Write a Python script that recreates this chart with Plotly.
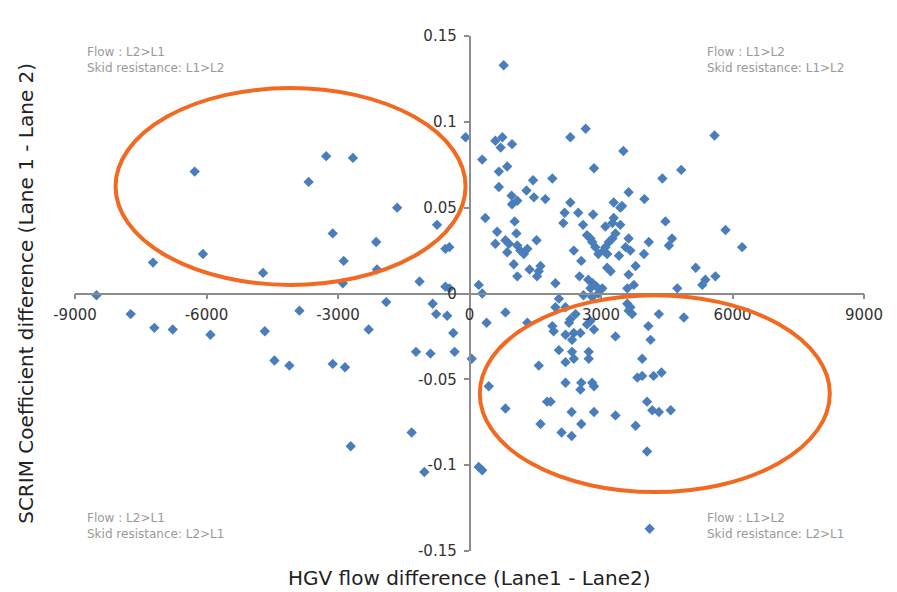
import plotly.graph_objects as go

# HGV flow difference (Lane1 - Lane2)
hgv_diff = [
    -6270, -3270, -2660, -3670, -1650, -740, -3120, -2130, -550, -460,
    -6080, -7220, -2870, -4710, -2110, -1140, -2890, -550, -8510, -90, -460,
    -7730, -7190, -6770, -5910, -4670, -3880, -4450, -4110, -3120, -2840,
    -2300, -1900, -840, -760, -510, -370, -1220, -890, -340, -1320, -2710, -1030,
    780, 590, 750, 710, 970, 290, 860, 670, 670, 2300, 2650, 3510, 2840, 5590,
    4400, 4830, 1450, 1890, 1300, 960, 1090, 1470, 1730, 3630,
    970, 2300, 3990, 3290, 3480, 3440, 360, 1030, 2170, 2480, 2820, 2140, 2590,
    3290, 3260, 3440, 3100, 4470, 5840,
    630, 1070, 590, 820, 900, 860, 1090, 1160, 1240, 1320, 1530, 2380, 2680,
    2760, 2800, 2870, 2940, 3330, 3260, 3180, 3100, 3060, 3140, 3630, 3560,
    3670, 4090, 4620, 4550, 3980, 3410, 6220, 2550,
    1010, 1370, 1620, 1580, 1540, 1090, 1960, 210, 290, 2510, 2710, 2810, 2900,
    2760, 2990, 3140, 3220, 3790, 3630, 5160, 5610, 5380, 5310, 4740, 3750,
    3600, 3030,
    820, 390, 1320, 2040, 1960, 2190, 1890, 1920, 2300, 2270, 2420, 2190, 2380,
    2530, 2340, 2680, 2760, 2840, 2800, 2040, 2340, 2720, 2720, 2190, 2380,
    1580, 50, 2190, 2550, 2800,
    440, 820, 1620, 1770, 1850, 2530, 2840, 2330, 2840, 2550, 2100, 2330, 210,
    290, 4050, 4170, 4320, 4590, 3330, 3790, 4050, 4110,
    3600, 3670, 3630, 3710, 4320, 4890, 3330, 4080, 4130, 3940, 3830, 3940,
    4200, 4380, 2940, 2600,
]

# SCRIM coefficient difference (Lane 1 - Lane 2)
scrim_diff = [
    0.071, 0.080, 0.079, 0.065, 0.050, 0.040, 0.035, 0.030, 0.026, 0.027,
    0.023, 0.018, 0.019, 0.012, 0.014, 0.007, 0.006, 0.004, -0.001, 0.091, 0.003,
    -0.012, -0.020, -0.021, -0.024, -0.022, -0.010, -0.039, -0.042, -0.041, -0.043,
    -0.021, -0.005, -0.006, -0.012, -0.013, -0.023, -0.034, -0.035, -0.034, -0.081, -0.089, -0.104,
    0.133, 0.089, 0.091, 0.085, 0.087, 0.078, 0.074, 0.071, 0.062, 0.091, 0.096, 0.083, 0.073, 0.092,
    0.067, 0.072, 0.066, 0.067, 0.060, 0.057, 0.054, 0.056, 0.055, 0.059,
    0.052, 0.053, 0.055, 0.053, 0.051, 0.050, 0.044, 0.042, 0.047, 0.047, 0.046, 0.041, 0.040,
    0.044, 0.041, 0.040, 0.039, 0.042, 0.037,
    0.036, 0.035, 0.029, 0.031, 0.029, 0.024, 0.028, 0.025, 0.023, 0.026, 0.031, 0.025, 0.034,
    0.032, 0.030, 0.027, 0.023, 0.035, 0.032, 0.030, 0.027, 0.025, 0.023, 0.032, 0.027,
    0.025, 0.030, 0.032, 0.028, 0.023, 0.022, 0.027, 0.019,
    0.017, 0.014, 0.016, 0.013, 0.010, 0.010, 0.006, 0.005, 0.000, 0.010, 0.008, 0.006, 0.004,
    0.003, 0.002, 0.015, 0.013, 0.016, 0.011, 0.015, 0.010, 0.008, 0.005, 0.003, 0.005,
    0.003, 0.003,
    -0.011, -0.017, -0.017, -0.003, -0.008, -0.008, -0.019, -0.022, -0.015, -0.017, -0.012, -0.024, -0.023,
    -0.023, -0.027, -0.018, -0.016, -0.021, -0.002, -0.033, -0.034, -0.034, -0.038, -0.040, -0.038,
    -0.042, -0.038, -0.052, -0.052, -0.052,
    -0.054, -0.067, -0.076, -0.063, -0.063, -0.056, -0.054, -0.069, -0.069, -0.076, -0.081, -0.083, -0.101,
    -0.103, -0.063, -0.068, -0.069, -0.068, -0.071, -0.077, -0.092, -0.137,
    -0.006, -0.008, -0.010, -0.012, -0.012, -0.014, -0.025, -0.019, -0.027, -0.038, -0.049, -0.048,
    -0.048, -0.046, 0.000, -0.001,
]

x_ticks = [-9000, -6000, -3000, 0, 3000, 6000, 9000]
x_tick_text = ["-9000", "-6000", "-3000", "0", "3000", "6000", "9000"]
y_ticks = [-0.15, -0.1, -0.05, 0, 0.05, 0.1, 0.15]
y_tick_text = ["-0.15", "-0.1", "-0.05", "0", "0.05", "0.1", "0.15"]

quadrant_notes = [
    ("Flow : L2>L1<br>Skid resistance: L1>L2", 0.013, 0.986),
    ("Flow : L1>L2<br>Skid resistance: L1>L2", 0.799, 0.986),
    ("Flow : L2>L1<br>Skid resistance: L2>L1", 0.013, 0.082),
    ("Flow : L1>L2<br>Skid resistance: L2>L1", 0.799, 0.082),
]

# highlighted regions (data coords): x0, x1, y0, y1
left_region = (-8075, -90, 0.005, 0.1197)
right_region = (235, 8220, -0.1157, -0.001)

fig = go.Figure()
fig.add_trace(go.Scatter(
    x=hgv_diff, y=scrim_diff, mode="markers",
    marker=dict(symbol="diamond", size=8, color="#4a7ebb", line=dict(width=0)),
    showlegend=False,
))

for (x0, x1, y0, y1) in (left_region, right_region):
    fig.add_shape(type="circle", xref="x", yref="y", x0=x0, x1=x1, y0=y0, y1=y1,
                  line=dict(color="#f26a22", width=4), fillcolor="rgba(0,0,0,0)")

for text, px, py in quadrant_notes:
    fig.add_annotation(text=text, x=px, y=py, xref="paper", yref="paper",
                       xanchor="left", yanchor="top", align="left", showarrow=False,
                       font=dict(family="DejaVu Sans", size=12, color="#999999"))

fig.add_annotation(text="HGV flow difference (Lane1 - Lane2)", x=0.5, y=-0.052,
                   xref="paper", yref="paper", xanchor="center", yanchor="middle",
                   showarrow=False, font=dict(family="DejaVu Sans", size=20, color="#222"))
fig.add_annotation(text="SCRIM Coefficient difference (Lane 1 - Lane 2)", x=-0.063, y=0.5,
                   xref="paper", yref="paper", xanchor="center", yanchor="middle",
                   textangle=-90, showarrow=False,
                   font=dict(family="DejaVu Sans", size=20, color="#222"))

axis_common = dict(showgrid=False, zeroline=False, showline=True, linecolor="#8c8c8c",
                   linewidth=1.5, ticks="outside", ticklen=5, tickcolor="#8c8c8c",
                   tickwidth=1.5, anchor="free", position=0.5,
                   tickfont=dict(family="DejaVu Sans", size=15, color="#333"))

fig.update_layout(
    width=897, height=592, autosize=False,
    margin=dict(l=75, r=33, t=36, b=41),
    paper_bgcolor="white", plot_bgcolor="white",
    xaxis=dict(range=[-9000, 9000], tickvals=x_ticks, ticktext=x_tick_text,
               ticklabelstandoff=3, **axis_common),
    yaxis=dict(range=[-0.15, 0.15], tickvals=y_ticks, ticktext=y_tick_text,
               ticklabelstandoff=4, **axis_common),
)

fig.write_html("out.html")
